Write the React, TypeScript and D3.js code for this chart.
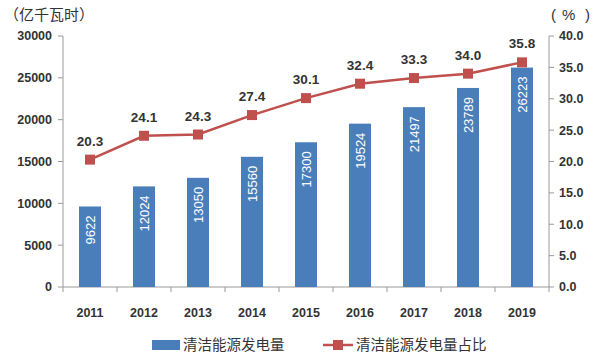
import React from "react";
import * as d3 from "d3";

const years = ["2011", "2012", "2013", "2014", "2015", "2016", "2017", "2018", "2019"];
const generation = [9622, 12024, 13050, 15560, 17300, 19524, 21497, 23789, 26223];
const share = [20.3, 24.1, 24.3, 27.4, 30.1, 32.4, 33.3, 34.0, 35.8];
const leftTicks = [0, 5000, 10000, 15000, 20000, 25000, 30000];
const rightTicks = [0, 5, 10, 15, 20, 25, 30, 35, 40];
const legendLabels = ["清洁能源发电量", "清洁能源发电量占比"];

const W = 600, H = 356;
const left = 63, right = 549, top = 36, bottom = 287;
const barColor = "#4A7EBB";
const lineColor = "#C0504D";
const font = "'Liberation Sans', Arial, sans-serif";
const cjk = "'Noto Sans CJK SC', sans-serif";
const axisColor = "#9a9a9a";
const textColor = "#333";

export default function App() {
  const xb = d3.scaleBand<string>().domain(years).range([left, right]);
  const yL = d3.scaleLinear().domain([0, 30000]).range([bottom, top]);
  const yR = d3.scaleLinear().domain([0, 40]).range([bottom, top]);
  const line = d3.line<number>().x((_, i) => xb(years[i])! + xb.bandwidth() / 2).y((d) => yR(d));
  const bw = 22;

  return (
    <svg width={W} height={H} style={{ position: "absolute", left: 0, top: 0, background: "#fff" }}>
      <text x={4} y={20} fontFamily={cjk} fontSize={15} fill={textColor}>（亿千瓦时）</text>
      <text x={551} y={20} fontFamily={font} fontSize={15} fill={textColor}>(</text>
      <text x={562} y={20} fontFamily={font} fontSize={15} fill={textColor}>%</text>
      <text x={585} y={20} fontFamily={font} fontSize={15} fill={textColor}>)</text>

      {/* left axis */}
      <line x1={left} x2={left} y1={top} y2={bottom} stroke={axisColor} />
      {leftTicks.map((t) => (
        <g key={"l" + t}>
          <line x1={left - 5} x2={left} y1={yL(t)} y2={yL(t)} stroke={axisColor} />
          <text x={52} y={yL(t)} dy="0.35em" textAnchor="end" fontFamily={font} fontWeight="bold" fontSize={12.5} fill={textColor}>{t}</text>
        </g>
      ))}
      {/* right axis */}
      <line x1={right} x2={right} y1={top} y2={bottom} stroke={axisColor} />
      {rightTicks.map((t) => (
        <g key={"r" + t}>
          <line x1={right} x2={right + 5} y1={yR(t)} y2={yR(t)} stroke={axisColor} />
          <text x={559} y={yR(t)} dy="0.35em" textAnchor="start" fontFamily={font} fontWeight="bold" fontSize={12.5} fill={textColor}>{t.toFixed(1)}</text>
        </g>
      ))}
      {/* bottom axis */}
      <line x1={left} x2={right} y1={bottom} y2={bottom} stroke={axisColor} />
      {years.map((y) => (
        <line key={"bt" + y} x1={xb(y)!} x2={xb(y)!} y1={bottom} y2={bottom + 5} stroke={axisColor} />
      ))}
      <line x1={right} x2={right} y1={bottom} y2={bottom + 5} stroke={axisColor} />
      {years.map((y) => (
        <text key={"yl" + y} x={xb(y)! + xb.bandwidth() / 2} y={317} textAnchor="middle" fontFamily={font} fontWeight="bold" fontSize={12.5} fill={textColor}>{y}</text>
      ))}

      {/* bars */}
      {years.map((y, i) => {
        const cx = xb(y)! + xb.bandwidth() / 2;
        const ty = yL(generation[i]);
        return (
          <g key={"b" + y}>
            <rect x={cx - bw / 2} y={ty} width={bw} height={bottom - ty} fill={barColor} />
            <text transform={`translate(${cx},${ty + 9}) rotate(-90)`} textAnchor="end" dy="0.35em" fontFamily={font} fontSize={13} fill="#fff">{generation[i]}</text>
          </g>
        );
      })}

      {/* line */}
      <path d={line(share)!} fill="none" stroke={lineColor} strokeWidth={2.5} />
      {share.map((v, i) => {
        const cx = xb(years[i])! + xb.bandwidth() / 2;
        return (
          <g key={"p" + i}>
            <rect x={cx - 5} y={yR(v) - 5} width={10} height={10} fill={lineColor} />
            <text x={cx} y={yR(v) - 14} textAnchor="middle" fontFamily={font} fontWeight="bold" fontSize={13.5} fill={textColor}>{v.toFixed(1)}</text>
          </g>
        );
      })}

      {/* legend */}
      <rect x={152} y={340} width={28} height={10} fill={barColor} />
      <text x={183} y={345} dy="0.35em" fontFamily={cjk} fontSize={14.5} fill={textColor}>{legendLabels[0]}</text>
      <line x1={323} x2={353} y1={345} y2={345} stroke={lineColor} strokeWidth={2.5} />
      <rect x={333} y={340} width={10} height={10} fill={lineColor} />
      <text x={356} y={345} dy="0.35em" fontFamily={cjk} fontSize={14.5} fill={textColor}>{legendLabels[1]}</text>
    </svg>
  );
}
